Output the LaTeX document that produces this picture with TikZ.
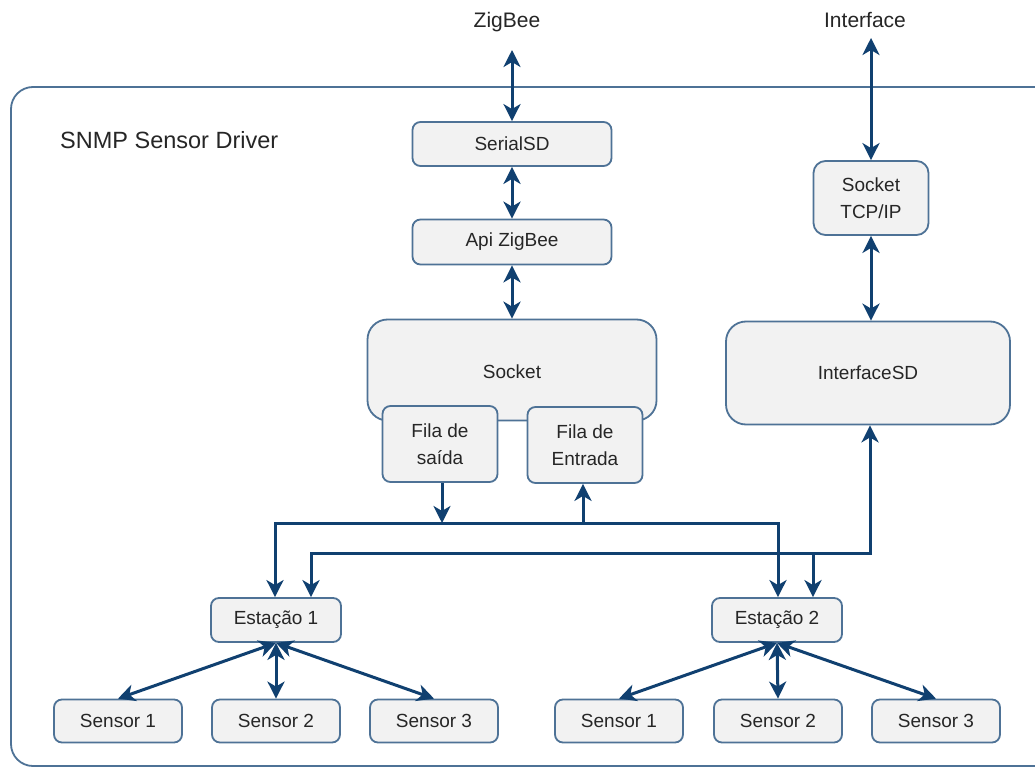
\documentclass[tikz,border=0pt]{standalone}
\usepackage{fontspec}
\setmainfont{Liberation Sans}
\usetikzlibrary{arrows.meta}
\definecolor{navy}{RGB}{16,64,112}
\definecolor{edge}{RGB}{78,114,150}
\definecolor{boxfill}{RGB}{242,242,242}
\definecolor{ink}{RGB}{38,38,38}
\tikzset{
  link/.style={draw=navy, line width=3pt,
    arrows={Stealth[length=17pt,width=17pt,inset=5pt]-Stealth[length=17pt,width=17pt,inset=5pt]}},
  tolink/.style={draw=navy, line width=3pt, -{Stealth[length=17pt,width=17pt,inset=5pt]}},
  box/.style={draw=edge, line width=1.8pt, fill=boxfill, rounded corners=8pt,
    text=ink, font=\fontsize{19}{27}\selectfont, align=center, inner sep=0pt},
  bigbox/.style={box, rounded corners=20pt},
  boxtext/.style={text=ink, font=\fontsize{19}{27}\selectfont},
  label/.style={text=ink, font=\fontsize{21}{25}\selectfont, inner sep=0pt}
}
\begin{document}
\begin{tikzpicture}[x=1pt,y=-1pt]
\useasboundingbox (0,0) rectangle (1035,767);
\fill[white] (0,0) rectangle (1035,767);

% driver frame
\draw[edge, line width=1.8pt, rounded corners=22pt] (11,87) rectangle (1060,766);
\node[label, anchor=west, font=\fontsize{23.5}{28}\selectfont] (title) at (60,140) {SNMP Sensor Driver};

% external endpoints
\node[label] (zig) at (507,22) {ZigBee};
\node[label] (iface) at (865,20) {Interface};
\coordinate (zigend) at (512,50);
\coordinate (ifaceend) at (871,38);

% ZigBee stack
\node[box, minimum width=199pt, minimum height=44pt] (serial) at (512,144) {SerialSD};
\node[box, minimum width=199pt, minimum height=45pt] (api) at (512,242) {Api ZigBee};
\node[bigbox, minimum width=289pt, minimum height=101pt] (socket) at (512,370) {};
\node[boxtext] (socketlbl) at (512,372) {Socket};
\node[box, minimum width=115pt, minimum height=76pt] (filas) at (440,444) {Fila de\\saída};
\node[box, minimum width=115pt, minimum height=76pt] (filae) at (585,445) {Fila de\\Entrada};

% TCP/IP stack
\node[box, rounded corners=12pt, minimum width=115pt, minimum height=74pt] (tcp) at (871,198) {Socket\\TCP/IP};
\node[bigbox, minimum width=284pt, minimum height=103pt] (ifsd) at (868,373) {InterfaceSD};

% stations
\node[box, minimum width=130pt, minimum height=44pt] (est1) at (276,620) {Estação 1};
\node[box, minimum width=130pt, minimum height=44pt] (est2) at (777,620) {Estação 2};

% sensors
\foreach \n/\x in {s11/118, s12/276, s13/434, s21/619, s22/778, s23/936}{
  \node[box, minimum width=128pt, minimum height=43pt] (\n) at (\x,721) {};
}
\node[boxtext] at (s11) {Sensor 1};
\node[boxtext] at (s12) {Sensor 2};
\node[boxtext] at (s13) {Sensor 3};
\node[boxtext] at (s21) {Sensor 1};
\node[boxtext] at (s22) {Sensor 2};
\node[boxtext] at (s23) {Sensor 3};

% vertical links
\draw[link] (zigend) -- (serial.north);
\draw[link] (serial.south) -- (api.north);
\draw[link] (api.south) -- (socket.north);
\draw[link] (ifaceend) -- (tcp.north);
\draw[link] (tcp.south) -- (ifsd.north -| tcp.south);

% upper bus: queues to stations
\coordinate (bus1) at (520,523);
\draw[link] ([xshift=-1pt]est1.north) |- (bus1) -| ([xshift=1pt]est2.north);
\draw[tolink] ([xshift=2pt]filas.south) -- ([xshift=2pt]filas.south |- bus1);
\draw[tolink] ([xshift=-2pt]filae.south |- bus1) -- ([xshift=-2pt]filae.south);

% lower bus: stations to InterfaceSD
\coordinate (bus2) at (600,553);
\coordinate (tap) at (813,553);
\draw[link] ([xshift=35pt]est1.north) |- (bus2) -| ([xshift=2pt]ifsd.south);
\draw[tolink] (tap) -- (tap |- est2.north);

% stations to sensors
\foreach \e/\s in {est1/s11, est1/s12, est1/s13, est2/s21, est2/s22, est2/s23}{
  \draw[link] (\e.south) -- (\s.north);
}
\end{tikzpicture}
\end{document}
